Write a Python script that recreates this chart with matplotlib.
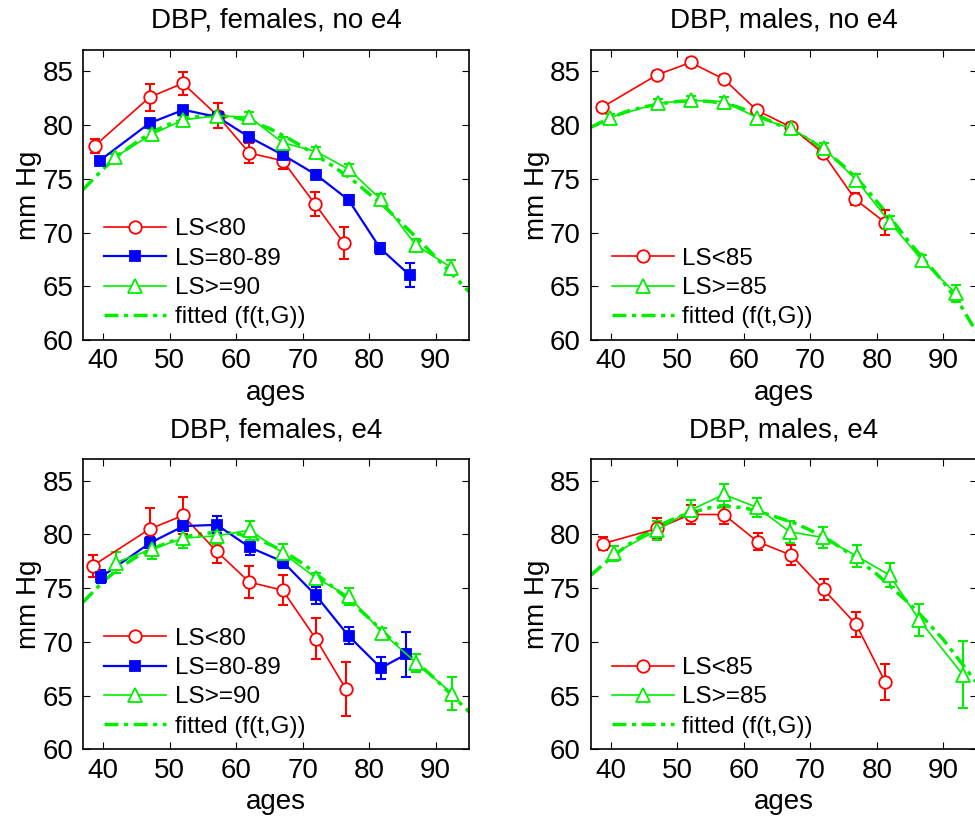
import matplotlib
matplotlib.use('Agg')
import matplotlib.pyplot as plt

plt.rcParams['font.family'] = ['Liberation Sans', 'DejaVu Sans']

RED = '#ff0000'
BLUE = '#0000ff'
GREEN = '#00ee00'

# ---- DBP, females, no e4 ----
fn_lo_age = [38.75, 47.0, 52.0, 57.25, 62.0, 67.0, 71.85, 76.2]
fn_lo_val = [78.07, 82.6, 83.9, 80.87, 77.4, 76.7, 72.67, 69.0]
fn_lo_err = [0.65, 1.27, 1.07, 1.16, 0.9, 0.78, 1.09, 1.5]
fn_mid_age = [39.5, 47.0, 52.1, 57.25, 62.0, 67.0, 72.0, 76.9, 81.65, 86.1]
fn_mid_val = [76.7, 80.19, 81.43, 80.75, 78.88, 77.24, 75.4, 73.04, 68.54, 66.03]
fn_mid_err = [0.3, 0.3, 0.3, 0.3, 0.4, 0.4, 0.4, 0.45, 0.5, 1.1]
fn_hi_age = [41.75, 47.35, 52.1, 57.1, 62.0, 67.0, 72.0, 76.9, 81.75, 87.0, 92.35]
fn_hi_val = [77.0, 79.16, 80.5, 80.87, 80.75, 78.38, 77.55, 75.9, 73.1, 68.85, 66.74]
fn_hi_err = [0.3, 0.5, 0.4, 0.4, 0.5, 0.5, 0.4, 0.5, 0.5, 0.6, 0.7]

fit_age = [37, 40, 42.5, 45, 47.5, 50, 52.5, 55, 57.5, 60, 62.5, 65,
           67.5, 70, 72.5, 75, 77.5, 80, 82.5, 85, 87.5, 90, 92.5, 95]
fn_fit = [74.0, 75.9, 77.3, 78.4, 79.4, 80.1, 80.6, 80.9, 80.9, 80.7, 80.3, 79.7,
          78.9, 78.0, 77.0, 76.0, 74.9, 73.6, 72.3, 70.8, 69.3, 67.7, 66.1, 64.5]

# ---- DBP, males, no e4 ----
mn_lo_age = [38.75, 47.0, 52.0, 57.0, 62.0, 67.15, 71.9, 76.75, 81.25]
mn_lo_val = [81.68, 84.69, 85.84, 84.29, 81.37, 79.81, 77.39, 73.1, 70.93]
mn_lo_err = [0.3, 0.4, 0.4, 0.4, 0.4, 0.4, 0.4, 0.55, 1.2]
mn_hi_age = [39.9, 47.1, 52.1, 57.0, 62.0, 67.1, 72.0, 76.9, 81.9, 86.75, 91.85]
mn_hi_val = [80.71, 82.05, 82.3, 82.2, 80.71, 79.72, 77.86, 74.91, 71.0, 67.45, 64.35]
mn_hi_err = [0.3, 0.4, 0.4, 0.4, 0.5, 0.4, 0.5, 0.5, 0.5, 0.5, 0.8]
mn_fit = [79.8, 80.7, 81.3, 81.7, 82.0, 82.2, 82.3, 82.2, 82.0, 81.5, 80.8, 80.1,
          79.4, 78.6, 77.5, 76.2, 74.7, 72.9, 71.0, 69.0, 67.2, 65.4, 63.3, 60.7]

# ---- DBP, females, e4 ----
fe_lo_age = [38.45, 47.0, 52.0, 57.1, 62.0, 67.0, 72.0, 76.5]
fe_lo_val = [77.08, 80.5, 81.77, 78.42, 75.56, 74.81, 70.28, 65.62]
fe_lo_err = [1.0, 2.0, 1.7, 1.05, 1.5, 1.4, 1.9, 2.5]
fe_mid_age = [39.75, 47.1, 52.1, 57.1, 62.1, 67.0, 72.0, 76.9, 81.75, 85.6]
fe_mid_val = [76.06, 79.22, 80.78, 80.9, 78.79, 77.48, 74.32, 70.56, 67.58, 68.85]
fe_mid_err = [0.6, 0.5, 0.5, 0.8, 0.7, 0.6, 0.75, 0.8, 1.0, 2.1]
fe_hi_age = [41.95, 47.35, 52.1, 57.1, 62.1, 67.0, 72.0, 76.9, 82.0, 87.1, 92.45]
fe_hi_val = [77.39, 78.63, 79.66, 79.88, 80.4, 78.29, 75.96, 74.25, 70.84, 68.04, 65.19]
fe_hi_err = [1.0, 0.9, 0.9, 0.8, 0.9, 0.8, 0.5, 0.8, 0.5, 0.8, 1.5]
fe_fit = [73.7, 75.6, 76.9, 77.9, 78.7, 79.3, 79.8, 80.1, 80.2, 80.1, 79.7, 79.1,
          78.3, 77.3, 76.1, 74.9, 73.6, 72.2, 70.7, 69.3, 67.9, 66.5, 65.0, 63.5]

# ---- DBP, males, e4 ----
me_lo_age = [38.9, 47.0, 52.0, 57.0, 62.1, 67.15, 72.0, 76.9, 81.25]
me_lo_val = [79.16, 80.56, 81.86, 81.86, 79.32, 78.07, 74.88, 71.62, 66.27]
me_lo_err = [0.6, 1.0, 0.9, 0.9, 0.8, 0.95, 1.0, 1.2, 1.7]
me_hi_age = [40.5, 47.0, 52.0, 57.0, 62.0, 66.9, 71.9, 77.0, 81.9, 86.4, 92.9]
me_hi_val = [78.23, 80.4, 82.27, 83.73, 82.52, 80.25, 79.72, 77.98, 76.21, 72.02, 66.96]
me_hi_err = [0.7, 0.9, 0.9, 1.0, 0.9, 1.0, 1.0, 1.0, 1.1, 1.5, 3.1]
me_fit = [76.2, 77.8, 79.0, 80.0, 80.9, 81.6, 82.1, 82.5, 82.6, 82.5, 82.1, 81.6,
          81.1, 80.4, 79.6, 78.6, 77.5, 76.3, 74.9, 73.5, 71.9, 70.2, 68.2, 66.2]

FS = 20
FIT_DASH = (4, 1.6, 1.2, 1.6)


def series(ax, x, y, e, color, marker, ms, label, lw=1.2, filled=False):
    ax.errorbar(x, y, yerr=e, fmt='none', ecolor=color, elinewidth=1.5,
                capsize=3.5, capthick=1.5, zorder=3)
    ax.plot(x, y, color=color, lw=lw, marker=marker, ms=ms,
            mfc=color if filled else 'white', mec=color, mew=1.3,
            label=label, zorder=4)


def fitted(ax, y):
    ax.plot(fit_age, y, color=GREEN, lw=2.5, dashes=FIT_DASH,
            label='fitted (f(t,G))', zorder=2)


def style(ax, title):
    ax.set_xlim(37, 95)
    ax.set_ylim(60, 87)
    ax.set_xticks(range(40, 100, 10))
    ax.set_yticks(range(60, 90, 5))
    ax.tick_params(direction='in', top=True, right=True, length=5,
                   labelsize=FS, pad=6)
    ax.tick_params(axis='y', pad=7)
    ax.set_title(title, fontsize=FS, pad=16)
    ax.set_xlabel('ages', fontsize=FS, labelpad=4)
    ax.set_ylabel('mm Hg', fontsize=FS, labelpad=0)
    for s in ax.spines.values():
        s.set_linewidth(1.2)
    ax.legend(loc='lower left', bbox_to_anchor=(0.055, 0.04), frameon=False,
              fontsize=17.5, handlelength=2.55, handletextpad=0.35,
              labelspacing=0.3, borderpad=0, borderaxespad=0)


fig = plt.figure(figsize=(9.75, 8.24), dpi=100)
W, H = 386 / 975, 290 / 824
ax1 = fig.add_axes([83 / 975, 484 / 824, W, H])
ax2 = fig.add_axes([590.7 / 975, 484 / 824, W, H])
ax3 = fig.add_axes([83 / 975, 74.7 / 824, W, H])
ax4 = fig.add_axes([590.7 / 975, 74.7 / 824, W, H])

series(ax1, fn_lo_age, fn_lo_val, fn_lo_err, RED, 'o', 9, 'LS<80')
series(ax1, fn_mid_age, fn_mid_val, fn_mid_err, BLUE, 's', 6.5, 'LS=80-89', lw=1.6, filled=True)
series(ax1, fn_hi_age, fn_hi_val, fn_hi_err, GREEN, '^', 9.5, 'LS>=90')
fitted(ax1, fn_fit)
style(ax1, 'DBP, females, no e4')

series(ax2, mn_lo_age, mn_lo_val, mn_lo_err, RED, 'o', 9, 'LS<85')
series(ax2, mn_hi_age, mn_hi_val, mn_hi_err, GREEN, '^', 9.5, 'LS>=85')
fitted(ax2, mn_fit)
style(ax2, 'DBP, males, no e4')

series(ax3, fe_lo_age, fe_lo_val, fe_lo_err, RED, 'o', 9, 'LS<80')
series(ax3, fe_mid_age, fe_mid_val, fe_mid_err, BLUE, 's', 6.5, 'LS=80-89', lw=1.6, filled=True)
series(ax3, fe_hi_age, fe_hi_val, fe_hi_err, GREEN, '^', 9.5, 'LS>=90')
fitted(ax3, fe_fit)
style(ax3, 'DBP, females, e4')

series(ax4, me_lo_age, me_lo_val, me_lo_err, RED, 'o', 9, 'LS<85')
series(ax4, me_hi_age, me_hi_val, me_hi_err, GREEN, '^', 9.5, 'LS>=85')
fitted(ax4, me_fit)
style(ax4, 'DBP, males, e4')

fig.savefig('out.png', dpi=100)
